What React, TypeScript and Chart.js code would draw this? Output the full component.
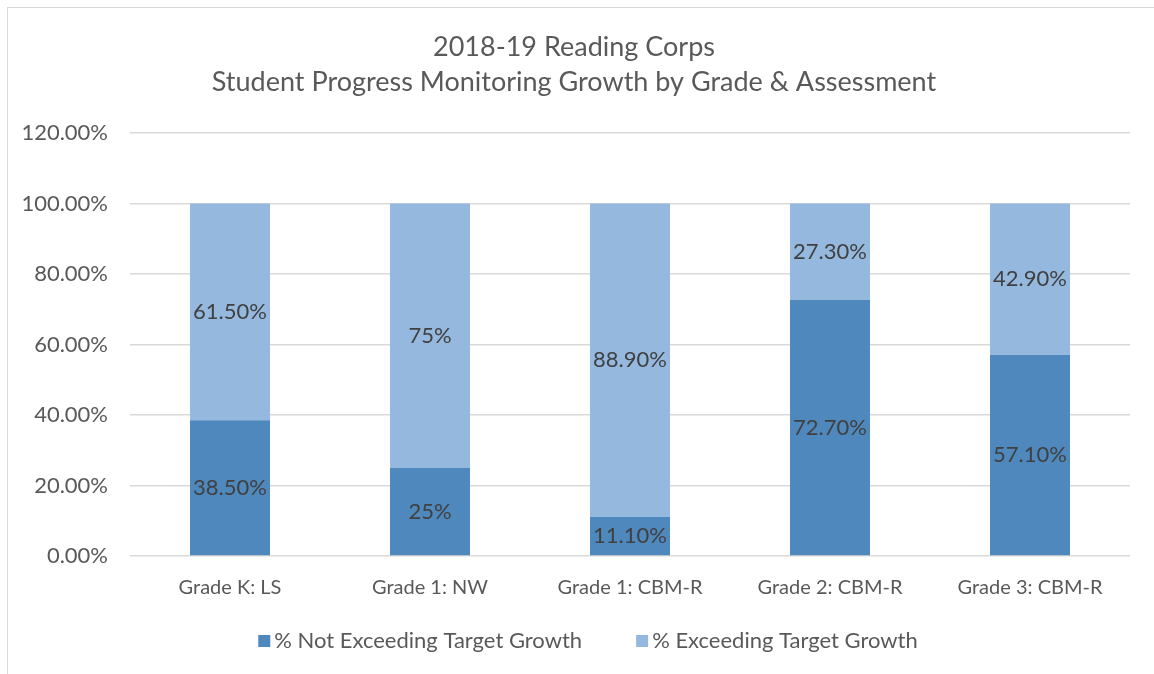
import React, { useEffect, useRef } from "react";
import { Chart, registerables } from "chart.js";

Chart.register(...registerables);

const categories = ["Grade K: LS", "Grade 1: NW", "Grade 1: CBM-R", "Grade 2: CBM-R", "Grade 3: CBM-R"];
const notExceeding = [38.5, 25, 11.1, 72.7, 57.1];
const exceeding = [61.5, 75, 88.9, 27.3, 42.9];
const notExceedingLabels = ["38.50%", "25%", "11.10%", "72.70%", "57.10%"];
const exceedingLabels = ["61.50%", "75%", "88.90%", "27.30%", "42.90%"];
const titleLines = ["2018-19 Reading Corps", "Student Progress Monitoring Growth by Grade & Assessment"];

const FONT = "Lato, 'Open Sans', sans-serif";

const labelPlugin = {
  id: "segLabels",
  afterDatasetsDraw(chart: any) {
    const ctx = chart.ctx;
    const sets = [notExceedingLabels, exceedingLabels];
    ctx.save();
    ctx.font = `22px ${FONT}`;
    ctx.fillStyle = "#404040";
    ctx.textAlign = "center";
    ctx.textBaseline = "middle";
    chart.data.datasets.forEach((_ds: any, di: number) => {
      const meta = chart.getDatasetMeta(di);
      meta.data.forEach((el: any, i: number) => {
        const y = (el.y + el.base) / 2;
        ctx.fillText(sets[di][i], el.x, y);
      });
    });
    ctx.restore();
  },
};

const legendPlugin = {
  id: "bottomLegend",
  afterDraw(chart: any) {
    const ctx = chart.ctx;
    ctx.save();
    ctx.font = `22px ${FONT}`;
    ctx.textBaseline = "middle";
    ctx.textAlign = "left";
    const box = 12;
    const boxGap = 4;
    const itemGap = 54;
    const items = chart.data.datasets.map((d: any) => ({
      text: d.label,
      color: d.backgroundColor,
      w: box + boxGap + ctx.measureText(d.label).width,
    }));
    const total = items.reduce((s: number, it: any) => s + it.w, 0) + itemGap * (items.length - 1);
    let x = chart.width / 2 + 7 - total / 2;
    const y = 633;
    items.forEach((it: any) => {
      ctx.fillStyle = it.color;
      ctx.fillRect(x, y - box / 2, box, box);
      ctx.fillStyle = "#595959";
      ctx.fillText(it.text, x + box + boxGap, y);
      x += it.w + itemGap;
    });
    ctx.restore();
  },
};

export default function App() {
  const ref = useRef<HTMLCanvasElement>(null);
  useEffect(() => {
    document.body.style.margin = "0";
    const chart = new Chart(ref.current!, {
      type: "bar",
      data: {
        labels: categories,
        datasets: [
          {
            label: "% Not Exceeding Target Growth",
            data: notExceeding,
            backgroundColor: "#4f88bd",
            barPercentage: 0.8,
            categoryPercentage: 0.5,
          },
          {
            label: "% Exceeding Target Growth",
            data: exceeding,
            backgroundColor: "#95b8df",
            barPercentage: 0.8,
            categoryPercentage: 0.5,
          },
        ],
      },
      options: {
        animation: false,
        responsive: true,
        maintainAspectRatio: false,
        layout: { padding: { left: 10, right: 24, top: 18, bottom: 61 } },
        scales: {
          x: {
            stacked: true,
            grid: { display: false },
            border: { display: false },
            ticks: { color: "#595959", font: { family: FONT, size: 20 }, padding: 12 },
          },
          y: {
            stacked: true,
            min: 0,
            max: 120,
            grid: { color: "#d9d9d9", lineWidth: 1.5, drawTicks: false },
            border: { display: false },
            ticks: {
              stepSize: 20,
              color: "#595959",
              font: { family: FONT, size: 22 },
              padding: 22,
              callback: (v: any) => Number(v).toFixed(2) + "%",
            },
            afterFit: (s: any) => {
              s.width = 112;
            },
          },
        },
        plugins: {
          title: {
            display: true,
            text: titleLines,
            color: "#595959",
            font: { family: FONT, size: 27, weight: "normal", lineHeight: 1.28 },
            padding: { top: 4, bottom: 34 },
          },
          legend: { display: false },
          tooltip: { enabled: false },
        },
      },
      plugins: [labelPlugin, legendPlugin],
    });
    return () => chart.destroy();
  }, []);
  return (
    <div
      style={{
        position: "absolute",
        left: 7,
        top: 7,
        width: 1160,
        height: 680,
        border: "1px solid #d9d9d9",
        boxSizing: "border-box",
      }}
    >
      <div style={{ position: "relative", width: 1146, height: 665 }}>
        <canvas ref={ref} />
      </div>
    </div>
  );
}
